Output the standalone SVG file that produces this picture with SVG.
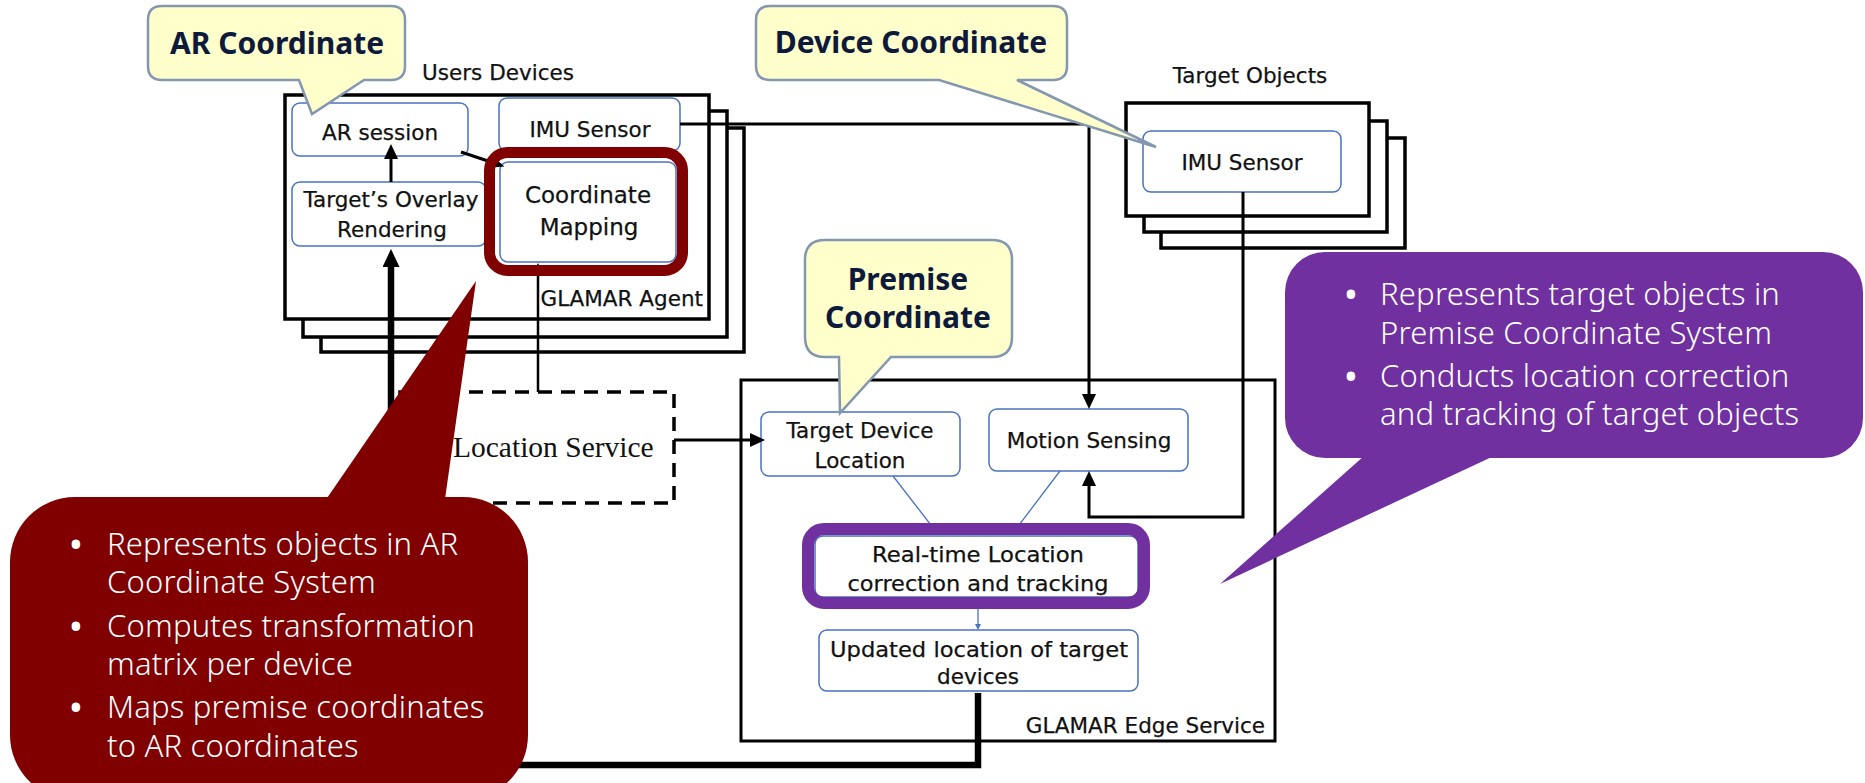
<svg xmlns="http://www.w3.org/2000/svg" width="1865" height="783" viewBox="0 0 1865 783">
<style>
.frame{fill:#fff;stroke:#000;stroke-width:3.5}
.node{fill:#fff;stroke:#4a72c0;stroke-width:1.5}
.lbl{font-family:"DejaVu Sans",Verdana,sans-serif;font-size:21.5px;fill:#111;stroke:#111;stroke-width:0.25;text-anchor:middle}
.cap{font-family:"Noto Sans","Open Sans",sans-serif;font-weight:700;font-size:30px;fill:#0d1a3c;text-anchor:middle}
.yc{fill:#ffffcc;stroke:#8497b0;stroke-width:2.5}
.bul{font-family:"Noto Sans","Open Sans",sans-serif;font-weight:300;font-size:31px;letter-spacing:0.2px;fill:#fff}
.dot{font-weight:400;font-size:38px;text-anchor:middle;letter-spacing:0}
.wire{fill:none;stroke:#000;stroke-width:3}
.thick{fill:none;stroke:#000;stroke-width:6.5}
.thin{fill:none;stroke:#4a72c0;stroke-width:1.3}
</style>
<defs>
<marker id="ah" viewBox="0 0 15 14" refX="1" refY="7" markerWidth="15" markerHeight="14" markerUnits="userSpaceOnUse" orient="auto"><path d="M0,0 L15,7 L0,14 Z" fill="#000"/></marker>
<marker id="ahL" viewBox="0 0 18 17" refX="1" refY="8.5" markerWidth="18" markerHeight="17" markerUnits="userSpaceOnUse" orient="auto"><path d="M0,0 L18,8.5 L0,17 Z" fill="#000"/></marker>
<marker id="ahs" viewBox="0 0 12 10" refX="1" refY="5" markerWidth="12" markerHeight="10" markerUnits="userSpaceOnUse" orient="auto"><path d="M0,0 L12,5 L0,10 Z" fill="#000"/></marker>
<marker id="aht" viewBox="0 0 10 10" refX="1" refY="5" markerWidth="10" markerHeight="10" markerUnits="userSpaceOnUse" orient="auto"><path d="M0,0 L10,5 L0,10 Z" fill="#000"/></marker>
<marker id="ahb" viewBox="0 0 6 6" refX="1" refY="3" markerWidth="6" markerHeight="6" markerUnits="userSpaceOnUse" orient="auto"><path d="M0,0 L6,3 L0,6 Z" fill="#4a72c0"/></marker>
</defs>
<rect width="1865" height="783" fill="#fff"/>

<g id="users-devices">
<rect class="frame" x="321" y="128" width="423" height="224"/>
<rect class="frame" x="303" y="111" width="424" height="226"/>
<rect class="frame" x="285" y="95" width="424" height="224"/>
<text class="lbl" x="498" y="80">Users Devices</text>
<text class="lbl" x="703" y="306" style="text-anchor:end">GLAMAR Agent</text>
</g>

<g id="target-objects">
<rect class="frame" x="1161" y="138" width="244" height="110"/>
<rect class="frame" x="1144" y="121" width="243" height="111"/>
<rect class="frame" x="1126" y="103" width="243" height="113"/>
<text class="lbl" x="1250" y="83">Target Objects</text>
</g>

<g id="edge-service">
<rect x="741" y="380" width="534" height="361" fill="none" stroke="#000" stroke-width="3"/>
<text class="lbl" x="1265" y="733" style="text-anchor:end">GLAMAR Edge Service</text>
</g>

<g id="location-service">
<rect x="400" y="392" width="274" height="111" fill="none" stroke="#000" stroke-width="3.5" stroke-dasharray="14 9"/>
<text x="453" y="457" font-family="Liberation Serif, Times New Roman, serif" font-size="29.5" fill="#111">Location Service</text>
</g>

<g id="ar-session">
<rect class="node" x="292" y="103" width="176" height="53" rx="8"/>
<text class="lbl" x="380" y="140">AR session</text>
</g>
<g id="imu-user">
<rect class="node" x="499" y="98" width="181" height="53" rx="8"/>
<text class="lbl" x="590" y="137">IMU Sensor</text>
</g>
<g id="overlay-rendering">
<rect class="node" x="292" y="182" width="194" height="64" rx="8"/>
<text class="lbl" x="391" y="207">Target’s Overlay</text>
<text class="lbl" x="392" y="237">Rendering</text>
</g>
<g id="coordinate-mapping">
<rect class="node" x="500" y="162" width="176" height="100" rx="8"/>
<text class="lbl" x="588" y="203" style="font-size:23px">Coordinate</text>
<text class="lbl" x="589" y="235" style="font-size:23px">Mapping</text>
</g>
<g id="imu-target">
<rect class="node" x="1143" y="131" width="198" height="61" rx="8"/>
<text class="lbl" x="1242" y="170">IMU Sensor</text>
</g>
<g id="target-device-location">
<rect class="node" x="761" y="412" width="199" height="64" rx="8"/>
<text class="lbl" x="860" y="438">Target Device</text>
<text class="lbl" x="860" y="468">Location</text>
</g>
<g id="motion-sensing">
<rect class="node" x="989" y="409" width="199" height="62" rx="8"/>
<text class="lbl" x="1089" y="448">Motion Sensing</text>
</g>
<g id="realtime-location">
<rect class="node" x="815" y="536" width="323" height="61" rx="8"/>
<text class="lbl" x="978" y="562" textLength="212" lengthAdjust="spacingAndGlyphs">Real-time Location</text>
<text class="lbl" x="978" y="591" textLength="261" lengthAdjust="spacingAndGlyphs">correction and tracking</text>
</g>
<g id="updated-location">
<rect class="node" x="819" y="630" width="319" height="61" rx="8"/>
<text class="lbl" x="979" y="657" textLength="298" lengthAdjust="spacingAndGlyphs">Updated location of target</text>
<text class="lbl" x="978" y="684">devices</text>
</g>

<g id="connectors">
<path class="wire" d="M391,182 V158" marker-end="url(#ah)"/>
<path class="wire" d="M461,152 L494,163" marker-end="url(#ahs)"/>
<path class="thick" d="M978,693 V765 H391 V266" marker-end="url(#ahL)"/>
<path class="wire" style="stroke-width:2.5" d="M538,392 V272" marker-end="url(#aht)"/>
<path class="wire" d="M674,440 H751" marker-end="url(#ah)"/>
<path class="wire" d="M680,124 H1089 V395" marker-end="url(#ah)"/>
<path class="wire" d="M1243,192 V517 H1089 V485" marker-end="url(#ah)"/>
<path class="thin" d="M893,476 L934,529"/>
<path class="thin" d="M1060,471 L1016,529"/>
<path class="thin" d="M978,609 V625" marker-end="url(#ahb)"/>
</g>

<g id="highlights">
<rect x="489.5" y="152.5" width="193" height="118" rx="18" fill="none" stroke="#800000" stroke-width="11"/>
<rect x="808" y="529" width="336" height="74" rx="16" fill="none" stroke="#7030a0" stroke-width="12"/>
</g>

<g id="callout-ar">
<path class="yc" d="M162,6 H391 Q405,6 405,20 V66 Q405,80 391,80 H364 L312,114 L299,80 H162 Q148,80 148,66 V20 Q148,6 162,6 Z"/>
<text class="cap" x="277" y="54">AR Coordinate</text>
</g>
<g id="callout-device">
<path class="yc" d="M770,6 H1053 Q1067,6 1067,20 V66 Q1067,80 1053,80 H1017 L1156,147 L939,80 H770 Q756,80 756,66 V20 Q756,6 770,6 Z"/>
<text class="cap" x="911" y="53">Device Coordinate</text>
</g>
<g id="callout-premise">
<path class="yc" d="M825,240 H992 Q1012,240 1012,260 V337 Q1012,357 992,357 H891 L840,413 L839,357 H825 Q805,357 805,337 V260 Q805,240 825,240 Z"/>
<text class="cap" x="908" y="290">Premise</text>
<text class="cap" x="908" y="328">Coordinate</text>
</g>

<g id="callout-agent">
<polygon points="312,520 476,281 442,520" fill="#800000"/>
<rect x="10" y="497" width="518" height="303" rx="65" fill="#800000"/>
<g class="bul">
<text class="dot" x="76" y="558">•</text><text x="107" y="555">Represents objects in AR</text>
<text x="107" y="593">Coordinate System</text>
<text class="dot" x="76" y="640">•</text><text x="107" y="637">Computes transformation</text>
<text x="107" y="675">matrix per device</text>
<text class="dot" x="76" y="721">•</text><text x="107" y="718">Maps premise coordinates</text>
<text x="107" y="757">to AR coordinates</text>
</g>
</g>

<g id="callout-edge">
<polygon points="1382,440 1220,584 1528,440" fill="#7030a0"/>
<rect x="1285" y="252" width="578" height="206" rx="40" fill="#7030a0"/>
<g class="bul">
<text class="dot" x="1351" y="308">•</text><text x="1380" y="305">Represents target objects in</text>
<text x="1380" y="344">Premise Coordinate System</text>
<text class="dot" x="1351" y="390">•</text><text x="1380" y="387">Conducts location correction</text>
<text x="1380" y="425">and tracking of target objects</text>
</g>
</g>
</svg>
